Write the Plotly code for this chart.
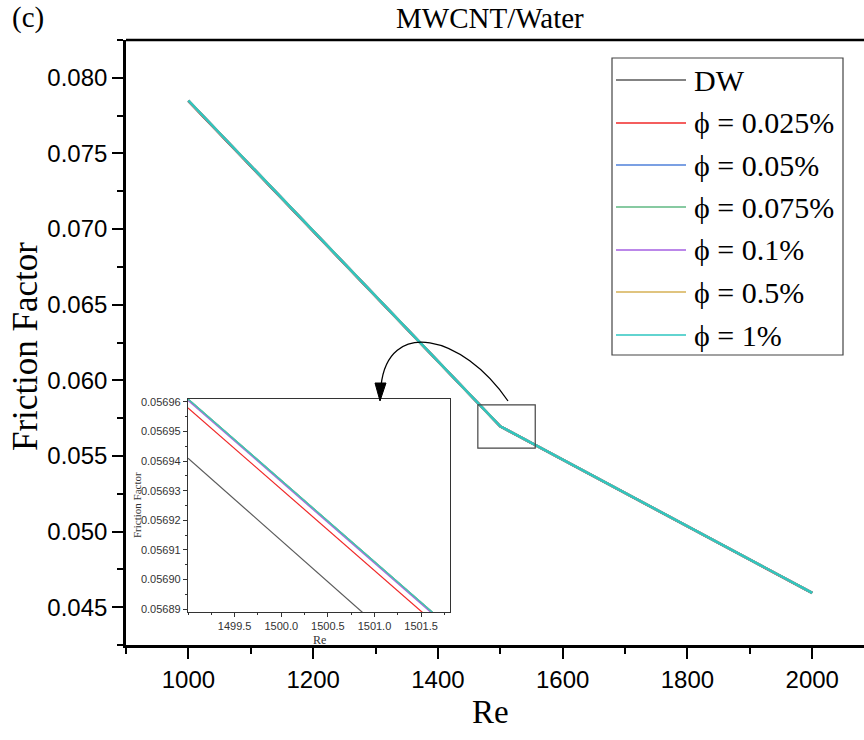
import plotly.graph_objects as go

# ---------------- data ----------------
series_names = ["DW", "ϕ = 0.025%", "ϕ = 0.05%", "ϕ = 0.075%", "ϕ = 0.1%", "ϕ = 0.5%", "ϕ = 1%"]
series_colors = ["#5a5a5a", "#F02828", "#4F80DA", "#5FB882", "#A45FE2", "#D6B154", "#2EC6C0"]

re_main = [1000, 1500, 2000]
f_dw = [0.07845, 0.056940, 0.045930]
f_0025 = [0.07848, 0.056958, 0.045945]
f_005 = [0.07850, 0.056961, 0.045950]
f_0075 = [0.07850, 0.056961, 0.045950]
f_01 = [0.07850, 0.0569605, 0.045950]
f_05 = [0.07850, 0.056961, 0.045950]
f_1 = [0.07850, 0.056961, 0.045950]
main_values = [f_dw, f_0025, f_005, f_0075, f_01, f_05, f_1]

inset_re = [1499.0, 1501.8]
in_dw = [0.056941, 0.056863]
in_0025 = [0.056958, 0.056881]
in_005 = [0.056961, 0.056884]
in_0075 = [0.056961, 0.056884]
in_01 = [0.0569605, 0.0568835]
in_05 = [0.056961, 0.056884]
in_1 = [0.056961, 0.056884]
inset_values = [in_dw, in_0025, in_005, in_0075, in_01, in_05, in_1]

inset_xticks = [1499.5, 1500.0, 1500.5, 1501.0, 1501.5]

# ---------------- layout geometry (pixels) ----------------
W, H = 864, 740
L, R, T, B = 126, 864, 40, 645


def px(x):
    return (x - L) / (R - L)


def py(y):
    return (B - y) / (B - T)


fig = go.Figure()

for name, color, vals in zip(series_names, series_colors, main_values):
    fig.add_trace(go.Scatter(x=re_main, y=vals, mode="lines", name=name,
                             line=dict(color=color, width=2.4), showlegend=False,
                             xaxis="x", yaxis="y"))

for name, color, vals in zip(series_names, series_colors, inset_values):
    fig.add_trace(go.Scatter(x=inset_re, y=vals, mode="lines", name=name,
                             line=dict(color=color, width=1.2), showlegend=False,
                             xaxis="x2", yaxis="y2"))

sans = "Liberation Sans, Arial, sans-serif"
serif = "Liberation Serif, Times New Roman, serif"

fig.update_layout(
    width=W, height=H,
    margin=dict(l=L, r=W - R, t=T, b=H - B),
    paper_bgcolor="white", plot_bgcolor="white",
    showlegend=False,
    xaxis=dict(range=[900, 2083], domain=[0, 1], showgrid=False, zeroline=False,
               showline=True, linecolor="black", linewidth=2.6,
               ticks="outside", ticklen=11, tickwidth=2.2, tickcolor="black",
               dtick=200, tick0=1000,
               minor=dict(dtick=100, tick0=900, ticks="outside", ticklen=6, tickwidth=2.2, tickcolor="black"),
               tickfont=dict(family=sans, size=24, color="black")),
    yaxis=dict(range=[0.0425, 0.0825], domain=[0, 1], showgrid=False, zeroline=False,
               showline=True, linecolor="black", linewidth=2.6,
               ticks="outside", ticklen=11, tickwidth=2.2, tickcolor="black",
               dtick=0.005, tick0=0.045, tickformat=".3f",
               minor=dict(dtick=0.0025, ticks="outside", ticklen=6, tickwidth=2.2, tickcolor="black"),
               tickfont=dict(family=sans, size=24, color="black")),
    xaxis2=dict(range=[1499.0, 1501.81], domain=[px(188), px(450)], anchor="y2",
                showgrid=False, zeroline=False, showline=True, mirror=True,
                linecolor="#333333", linewidth=1.2,
                tickvals=inset_xticks, ticktext=[f"{v:.1f}" for v in inset_xticks],
                ticks="outside", ticklen=4, tickwidth=1, tickcolor="#333333",
                minor=dict(dtick=0.25, tick0=1499.0, ticks="outside", ticklen=2, tickcolor="#333333"),
                tickfont=dict(family=sans, size=11, color="#333333")),
    yaxis2=dict(range=[0.056889, 0.056961], domain=[py(612), py(399)], anchor="x2",
                showgrid=False, zeroline=False, showline=True, mirror=True,
                linecolor="#333333", linewidth=1.2,
                dtick=0.00001, tick0=0.05689, tickformat=".5f",
                ticks="outside", ticklen=4, tickwidth=1, tickcolor="#333333",
                minor=dict(dtick=0.000005, ticks="outside", ticklen=2, tickcolor="#333333"),
                tickfont=dict(family=sans, size=11, color="#333333")),
)

shapes = []
# top frame line
shapes.append(dict(type="line", xref="paper", yref="paper", x0=0, x1=1, y0=1, y1=1,
                   line=dict(color="black", width=2.6)))
# zoom rectangle around the kink
shapes.append(dict(type="rect", xref="x", yref="y", x0=1464, x1=1556, y0=0.05551, y1=0.05837,
                   line=dict(color="#444444", width=1.2)))
# curved arrow
path = (f"M {px(508)},{py(401)} C {px(462)},{py(334)} {px(388)},{py(318)} {px(381)},{py(386)}")
shapes.append(dict(type="path", xref="paper", yref="paper", path=path,
                   line=dict(color="black", width=1.3)))
head = (f"M {px(380)},{py(401)} L {px(375)},{py(383)} L {px(386)},{py(383)} Z")
shapes.append(dict(type="path", xref="paper", yref="paper", path=head,
                   fillcolor="black", line=dict(color="black", width=1)))

# manual legend
shapes.append(dict(type="rect", xref="paper", yref="paper", x0=px(612), x1=px(843),
                   y0=py(355), y1=py(58), line=dict(color="#444444", width=1.2),
                   fillcolor="white", layer="above"))
legend_y = [80, 123, 165, 207, 250, 292, 335]
annotations = []
for name, color, yy in zip(series_names, series_colors, legend_y):
    shapes.append(dict(type="line", xref="paper", yref="paper", x0=px(616), x1=px(686),
                       y0=py(yy), y1=py(yy), line=dict(color=color, width=1.5)))
    annotations.append(dict(xref="paper", yref="paper", x=px(692), y=py(yy), text=name,
                            showarrow=False, xanchor="left", yanchor="middle",
                            font=dict(family=serif, size=30, color="black")))

annotations += [
    dict(xref="paper", yref="paper", x=px(490), y=py(18), text="MWCNT/Water", showarrow=False,
         xanchor="center", yanchor="middle", font=dict(family=serif, size=29, color="black")),
    dict(xref="paper", yref="paper", x=px(28), y=py(18), text="(c)", showarrow=False,
         xanchor="center", yanchor="middle", font=dict(family=serif, size=29, color="black")),
    dict(xref="paper", yref="paper", x=px(490), y=py(712), text="Re", showarrow=False,
         xanchor="center", yanchor="middle", font=dict(family=serif, size=33, color="black")),
    dict(xref="paper", yref="paper", x=px(25), y=py(347), text="Friction Factor", showarrow=False,
         textangle=-90, xanchor="center", yanchor="middle",
         font=dict(family=serif, size=35, color="black")),
    dict(xref="paper", yref="paper", x=px(137), y=py(505), text="Friction Factor", showarrow=False,
         textangle=-90, xanchor="center", yanchor="middle",
         font=dict(family=serif, size=11, color="#333333")),
    dict(xref="paper", yref="paper", x=px(319), y=py(640), text="Re", showarrow=False,
         xanchor="center", yanchor="middle", font=dict(family=serif, size=12, color="#333333")),
]

fig.update_layout(shapes=shapes, annotations=annotations)
fig.write_html("out.html")
